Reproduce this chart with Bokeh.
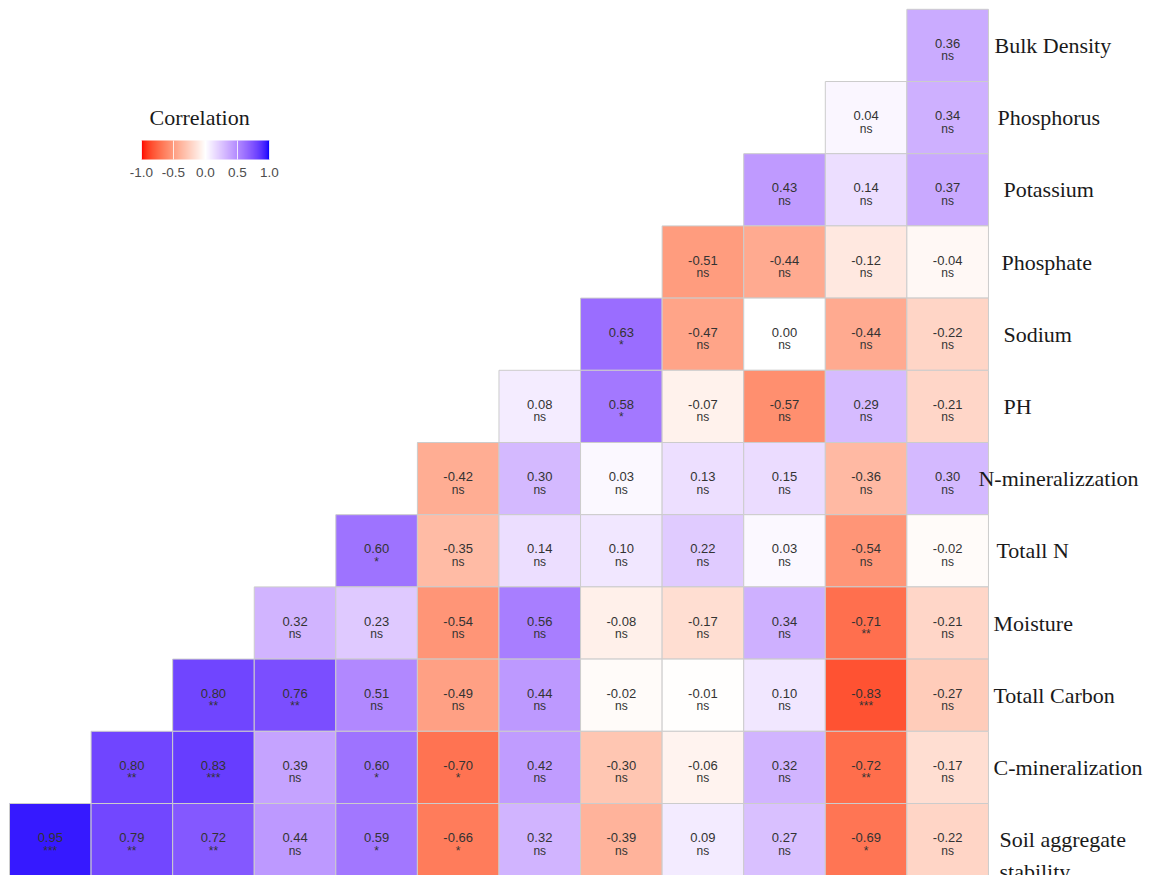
import numpy as np
from bokeh.plotting import figure
from bokeh.models import (ColumnDataSource, LinearColorMapper, ColorBar, FixedTicker,
                          PrintfTickFormatter, Label, Range1d)
from bokeh.core.properties import value
from bokeh.embed import file_html
from bokeh.resources import INLINE

# ---------------- data ----------------
variables = ["Bulk Density", "Phosphorus", "Potassium", "Phosphate", "Sodium", "PH",
             "N-mineralizzation", "Totall N", "Moisture", "Totall Carbon",
             "C-mineralization", "Soil aggregate\nstability"]

# row k (top to bottom) holds k+1 values, occupying the rightmost k+1 columns (left to right)
corr_rows = [
    [0.36],
    [0.04, 0.34],
    [0.43, 0.14, 0.37],
    [-0.51, -0.44, -0.12, -0.04],
    [0.63, -0.47, 0.00, -0.44, -0.22],
    [0.08, 0.58, -0.07, -0.57, 0.29, -0.21],
    [-0.42, 0.30, 0.03, 0.13, 0.15, -0.36, 0.30],
    [0.60, -0.35, 0.14, 0.10, 0.22, 0.03, -0.54, -0.02],
    [0.32, 0.23, -0.54, 0.56, -0.08, -0.17, 0.34, -0.71, -0.21],
    [0.80, 0.76, 0.51, -0.49, 0.44, -0.02, -0.01, 0.10, -0.83, -0.27],
    [0.80, 0.83, 0.39, 0.60, -0.70, 0.42, -0.30, -0.06, 0.32, -0.72, -0.17],
    [0.95, 0.79, 0.72, 0.44, 0.59, -0.66, 0.32, -0.39, 0.09, 0.27, -0.69, -0.22],
]
sig_rows = [
    ["ns"],
    ["ns", "ns"],
    ["ns", "ns", "ns"],
    ["ns", "ns", "ns", "ns"],
    ["*", "ns", "ns", "ns", "ns"],
    ["ns", "*", "ns", "ns", "ns", "ns"],
    ["ns", "ns", "ns", "ns", "ns", "ns", "ns"],
    ["*", "ns", "ns", "ns", "ns", "ns", "ns", "ns"],
    ["ns", "ns", "ns", "ns", "ns", "ns", "ns", "**", "ns"],
    ["**", "**", "ns", "ns", "ns", "ns", "ns", "ns", "***", "ns"],
    ["**", "***", "ns", "*", "*", "ns", "ns", "ns", "ns", "**", "ns"],
    ["***", "**", "**", "ns", "*", "*", "ns", "ns", "ns", "ns", "*", "ns"],
]
cbar_ticks = [-1.0, -0.5, 0.0, 0.5, 1.0]

# ---------------- styling ----------------
label_dx = [6, 9, 15, 13, 15, 15, -10, 8, 5, 5, 5, 11]   # px offsets of row labels
label_dy = [0, 0, 0, 0, 0, 0, 0, 0, 0, 0, 0, 16]


# ---------------- colour scale (Lab interpolation red-white-blue) ----------------
def _to_lin(c):
    c = np.asarray(c, float) / 255.0
    return np.where(c <= 0.04045, c / 12.92, ((c + 0.055) / 1.055) ** 2.4)


def _from_lin(c):
    c = np.where(c <= 0.0031308, 12.92 * c, 1.055 * np.clip(c, 0, None) ** (1 / 2.4) - 0.055)
    return np.clip(np.round(c * 255), 0, 255).astype(int)


M = np.array([[0.4124564, 0.3575761, 0.1804375],
              [0.2126729, 0.7151522, 0.0721750],
              [0.0193339, 0.1191920, 0.9503041]])
WHITE_REF = np.array([0.95047, 1.0, 1.08883])
d = 6 / 29


def rgb2lab(rgb):
    xyz = M @ _to_lin(rgb) / WHITE_REF
    f = np.where(xyz > d ** 3, np.cbrt(xyz), xyz / (3 * d * d) + 4 / 29)
    return np.array([116 * f[1] - 16, 500 * (f[0] - f[1]), 200 * (f[1] - f[2])])


def lab2hex(lab):
    L, a, b = lab
    fy = (L + 16) / 116
    fx = fy + a / 500
    fz = fy - b / 200
    f = np.array([fx, fy, fz])
    xyz = np.where(f > d, f ** 3, 3 * d * d * (f - 4 / 29)) * WHITE_REF
    rgb = _from_lin(np.linalg.inv(M) @ xyz)
    return "#%02x%02x%02x" % tuple(rgb)


lab_low = rgb2lab([255, 0, 0])
lab_mid = rgb2lab([255, 255, 255])
lab_high = rgb2lab([0, 0, 255])
palette = []
for t in np.linspace(-1, 1, 255):
    if t < 0:
        lab = lab_mid + (-t) * (lab_low - lab_mid)
    else:
        lab = lab_mid + t * (lab_high - lab_mid)
    palette.append(lab2hex(lab))

mapper = LinearColorMapper(palette=palette, low=-1, high=1)

# ---------------- build cell table ----------------
n = len(variables)
xs, ys, vals, vtxt, stxt = [], [], [], [], []
for k, (row, sig) in enumerate(zip(corr_rows, sig_rows)):
    first_col = n - (k + 1)
    for j, (v, s) in enumerate(zip(row, sig)):
        xs.append(first_col + j + 0.5)
        ys.append(n - 1 - k + 0.5)
        vals.append(v)
        vtxt.append(f"{v:.2f}")
        stxt.append(s)
cells = ColumnDataSource(dict(x=xs, y=ys, v=vals, vt=vtxt, st=stxt))

labels = ColumnDataSource(dict(
    x=[n] * n,
    y=[n - 1 - k + 0.5 for k in range(n)],
    t=variables,
    dx=label_dx,
    dy=label_dy,
))

# ---------------- figure ----------------
W, H = 1149, 875
cw, ch = 81.58, 72.2
x0 = -9 / cw
y1 = n + 8.8 / ch
p = figure(width=W, height=H, output_backend="svg", toolbar_location=None,
           x_range=Range1d(x0, x0 + W / cw), y_range=Range1d(y1 - H / ch, y1),
           min_border=0, outline_line_color=None)
p.axis.visible = False
p.grid.visible = False
p.background_fill_color = "white"

p.rect(x="x", y="y", width=1, height=1, source=cells,
       fill_color={"field": "v", "transform": mapper},
       line_color="#cccccc", line_width=1)

p.text(x="x", y="y", text="vt", source=cells, text_align="center", text_baseline="middle",
       y_offset=-2, text_font=value("Liberation Sans"), text_font_size="13px",
       text_color="#333333")
p.text(x="x", y="y", text="st", source=cells, text_align="center", text_baseline="middle",
       y_offset=11, text_font=value("Liberation Sans"), text_font_size="12px",
       text_color="#333333")

p.text(x="x", y="y", text="t", source=labels, x_offset="dx", y_offset="dy",
       text_align="left", text_baseline="middle",
       text_font=value("Liberation Serif"), text_font_size="22px",
       text_color="#1a1a1a", text_line_height=1.25)

# legend
cb = ColorBar(color_mapper=mapper, orientation="horizontal", width=128, height=19,
              location=(141, 696), padding=0, margin=0,
              ticker=FixedTicker(ticks=cbar_ticks),
              formatter=PrintfTickFormatter(format="%.1f"),
              major_label_text_font="Liberation Sans",
              major_label_text_font_size="13.5px", major_label_text_color="#4d4d4d",
              label_standoff=8,
              major_tick_line_color="white", major_tick_line_alpha=0.8,
              major_tick_in=19, major_tick_out=0,
              bar_line_color=None, border_line_color=None,
              background_fill_alpha=0)
p.add_layout(cb, "center")

title = Label(x=149, y=758, x_units="screen", y_units="screen", text="Correlation",
              text_font="Liberation Serif", text_font_size="22px", text_color="#1a1a1a",
              text_baseline="alphabetic", text_align="left")
p.add_layout(title)

open("out.html", "w").write(file_html(p, INLINE))
